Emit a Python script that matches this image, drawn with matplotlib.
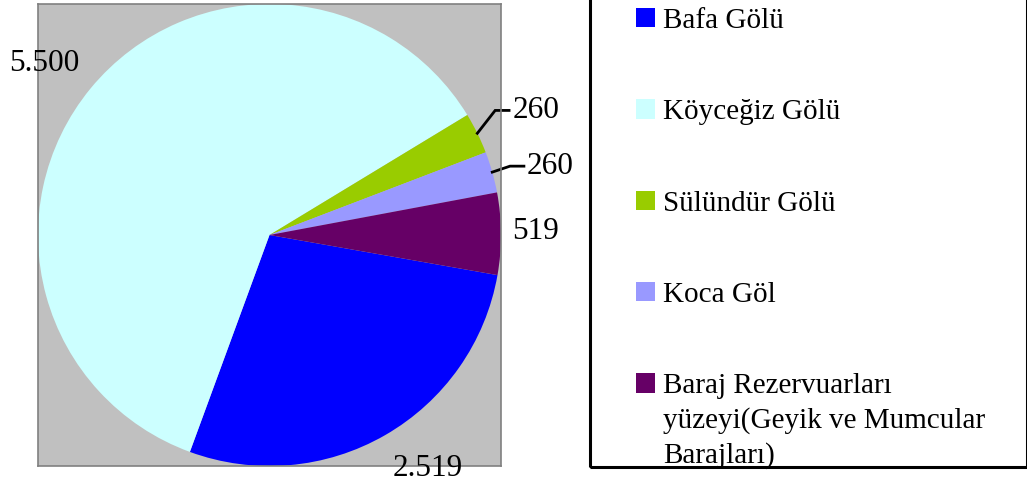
import numpy as np
import matplotlib.pyplot as plt
from matplotlib.patches import Patch, Rectangle

plt.rcParams['font.family'] = ['Liberation Serif', 'DejaVu Serif']

names = ["Bafa Gölü", "Köyceğiz Gölü", "Sülündür Gölü", "Koca Göl",
         "Baraj Rezervuarları\nyüzeyi(Geyik ve Mumcular\nBarajları)"]
values = [2519, 5500, 260, 260, 519]
value_labels = ["2.519", "5.500", "260", "260", "519"]
colors = ["#0000FF", "#CCFFFF", "#99CC00", "#9999FF", "#660066"]

# label placement (radius factor, angle shift in degrees, leader line?)
lab_r = [1.22, 1.225, 1.27, 1.25, 1.15]
lab_da = [4, 2, -1, -2, 0.5]
leader = [False, False, True, True, False]

W, H = 1027, 491
fig = plt.figure(figsize=(W / 100, H / 100), dpi=100)
ax = fig.add_axes([38 / W, 1 - 466 / H, 463 / W, 462 / H])
ax.set_facecolor("#C0C0C0")

wedges, _ = ax.pie(values, colors=colors, startangle=-10, counterclock=False,
                   radius=1.0, frame=True)
ax.set_aspect('auto')
ax.set_xlim(-1, 1)
ax.set_ylim(-1, 1)
ax.set_xticks([])
ax.set_yticks([])
for s in ax.spines.values():
    s.set_color("#808080")
    s.set_linewidth(1.2)

for w, lab, r, da, ld in zip(wedges, value_labels, lab_r, lab_da, leader):
    mid = np.deg2rad((w.theta1 + w.theta2) / 2)
    ang = mid + np.deg2rad(da)
    x, y = r * np.cos(ang), r * np.sin(ang)
    ax.text(x, y, lab, ha='center', va='center', fontsize=22.5, clip_on=False)
    if ld:
        x0, y0 = np.cos(mid), np.sin(mid)
        ax.plot([x0, x - 0.175, x - 0.115], [y0, y, y], color='black',
                lw=2, clip_on=False, solid_joinstyle='miter')

# legend frame
fig.add_artist(Rectangle((590 / W, 1 - 467 / H), 437 / W, 470 / H,
                         transform=fig.transFigure, fill=False,
                         edgecolor='black', lw=2.2))
handles = [Patch(facecolor=c, edgecolor='none') for c in colors]
first_lines = [n.split("\n")[0] for n in names]
leg = fig.legend(handles, first_lines, loc='upper left',
                 bbox_to_anchor=(636 / W, 1 - 8 / H), frameon=False,
                 fontsize=21, borderpad=0, borderaxespad=0,
                 handlelength=0.65, handleheight=0.65, handletextpad=0.28,
                 labelspacing=2.24)

# wrapped remainder of the last legend label, under its first line
fig.canvas.draw()
t = leg.get_texts()[-1]
bx, by = t.get_transform().transform(t.get_position())
for i, extra in enumerate(names[-1].split("\n")[1:], start=1):
    fig.text(bx / W, (by - i * 34.5) / H, extra, fontsize=21,
             ha='left', va='baseline')

fig.savefig("out.png", dpi=100)
